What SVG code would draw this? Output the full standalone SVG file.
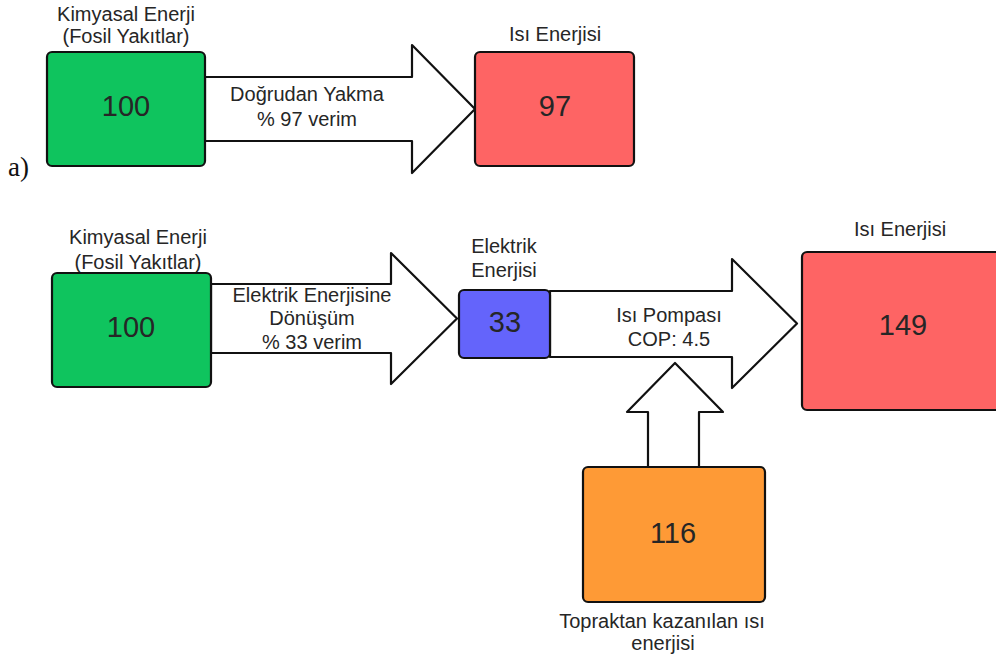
<svg xmlns="http://www.w3.org/2000/svg" width="996" height="664" viewBox="0 0 996 664">
<style>
.box{stroke:#111;stroke-width:2.2}
.green{fill:#0fc45e}
.red{fill:#fe6464}
.blue{fill:#6464fb}
.orange{fill:#fe9a36}
.arrow{fill:#fff;stroke:#111;stroke-width:2.2;stroke-linejoin:round}
text{font-family:"Liberation Sans",Arial,sans-serif;fill:#262626;text-anchor:middle}
.lbl{font-size:20px}
.num{font-size:29px}
.tag{font-family:"Liberation Serif","Times New Roman",serif;font-size:27px;text-anchor:start;fill:#111}
</style>
<rect width="996" height="664" fill="#fff"/>
<g id="connectors">
  <g id="arrow-a">
    <path class="arrow" d="M205,77 H412 V45 L475,109 L412,173 V141 H205 Z"/>
    <text class="lbl" x="307" y="101">Doğrudan Yakma</text>
    <text class="lbl" x="307" y="126">% 97 verim</text>
  </g>
  <g id="arrow-b1">
    <path class="arrow" d="M211,284 H391 V253 L457,318.5 L391,384 V353 H211 Z"/>
    <text class="lbl" x="312" y="302">Elektrik Enerjisine</text>
    <text class="lbl" x="312" y="325">Dönüşüm</text>
    <text class="lbl" x="312" y="349">% 33 verim</text>
  </g>
  <g id="arrow-b2">
    <path class="arrow" d="M550,291 H732 V259 L797,323.5 L732,388 V357 H550 Z"/>
    <text class="lbl" x="669" y="322">Isı Pompası</text>
    <text class="lbl" x="669" y="346">COP: 4.5</text>
  </g>
  <g id="arrow-up">
    <path class="arrow" d="M648,467 V412 H627 L675,363 L723,412 H699 V467 Z"/>
  </g>
</g>
<text class="tag" x="8" y="176">a)</text>
<g id="node-a-chem">
  <text class="lbl" x="126" y="21">Kimyasal Enerji</text>
  <text class="lbl" x="126" y="43">(Fosil Yakıtlar)</text>
  <rect class="box green" x="47" y="52" width="158" height="114" rx="5"/>
  <text class="num" x="126" y="116">100</text>
</g>
<g id="node-a-heat">
  <text class="lbl" x="555" y="41">Isı Enerjisi</text>
  <rect class="box red" x="475" y="52" width="159" height="114" rx="5"/>
  <text class="num" x="555" y="116">97</text>
</g>
<g id="node-b-chem">
  <text class="lbl" x="138" y="244">Kimyasal Enerji</text>
  <text class="lbl" x="138" y="269">(Fosil Yakıtlar)</text>
  <rect class="box green" x="52" y="273" width="159" height="114" rx="5"/>
  <text class="num" x="131" y="337">100</text>
</g>
<g id="node-b-elec">
  <text class="lbl" x="504" y="253">Elektrik</text>
  <text class="lbl" x="504" y="277">Enerjisi</text>
  <rect class="box blue" x="459" y="290" width="91" height="68" rx="5"/>
  <text class="num" x="505" y="332">33</text>
</g>
<g id="node-b-heat">
  <text class="lbl" x="900" y="236">Isı Enerjisi</text>
  <rect class="box red" x="802" y="252" width="205" height="158" rx="5"/>
  <text class="num" x="903" y="335">149</text>
</g>
<g id="node-b-ground">
  <rect class="box orange" x="583" y="467" width="182" height="135" rx="5"/>
  <text class="num" x="673" y="543">116</text>
  <text class="lbl" x="662" y="628">Topraktan kazanılan ısı</text>
  <text class="lbl" x="663" y="650">enerjisi</text>
</g>
</svg>
